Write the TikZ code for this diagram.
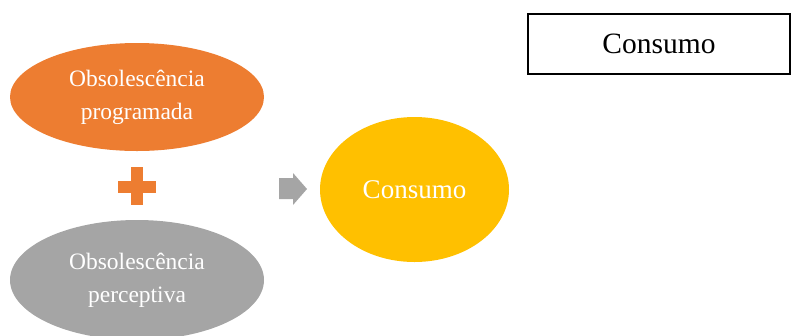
\documentclass[tikz,border=0pt]{standalone}
\usepackage{fontspec}
\setmainfont{Liberation Serif}
\usetikzlibrary{shapes.geometric}
\definecolor{orangeA}{HTML}{ED7D31}
\definecolor{grayA}{HTML}{A5A5A5}
\definecolor{goldA}{HTML}{FFC000}
\begin{document}
\begin{tikzpicture}[x=1pt,y=-1pt,
  blob/.style={ellipse, inner sep=0pt, text=white, align=center},
  smalltext/.style={font=\fontsize{23.5}{33}\selectfont}]
\useasboundingbox (0,0) rectangle (792,335);
\node[blob, smalltext, fill=orangeA, minimum width=254pt, minimum height=108pt] (prog) at (137,97) {Obsolescência\\programada};
\node[blob, smalltext, fill=grayA, minimum width=254pt, minimum height=120pt] (perc) at (137,280) {Obsolescência\\perceptiva};
\node[blob, fill=goldA, minimum width=189pt, minimum height=145pt, font=\fontsize{27}{32}\selectfont] (cons) at (414.5,189.5) {Consumo};
\node[draw=black, line width=1.2pt, minimum width=262pt, minimum height=60pt, inner sep=0pt, font=\fontsize{29.5}{34}\selectfont] (box) at (659,44) {Consumo};
% plus sign
\fill[orangeA] (118,181) rectangle (156,193);
\fill[orangeA] (131,167) rectangle (143,205);
\coordinate (plus) at (137,186);
% arrow
\fill[grayA] (279,178) -- (293,178) -- (293,173) -- (307,189) -- (293,205) -- (293,199) -- (279,199) -- cycle;
\coordinate (arr) at (293,189);
\end{tikzpicture}
\end{document}
